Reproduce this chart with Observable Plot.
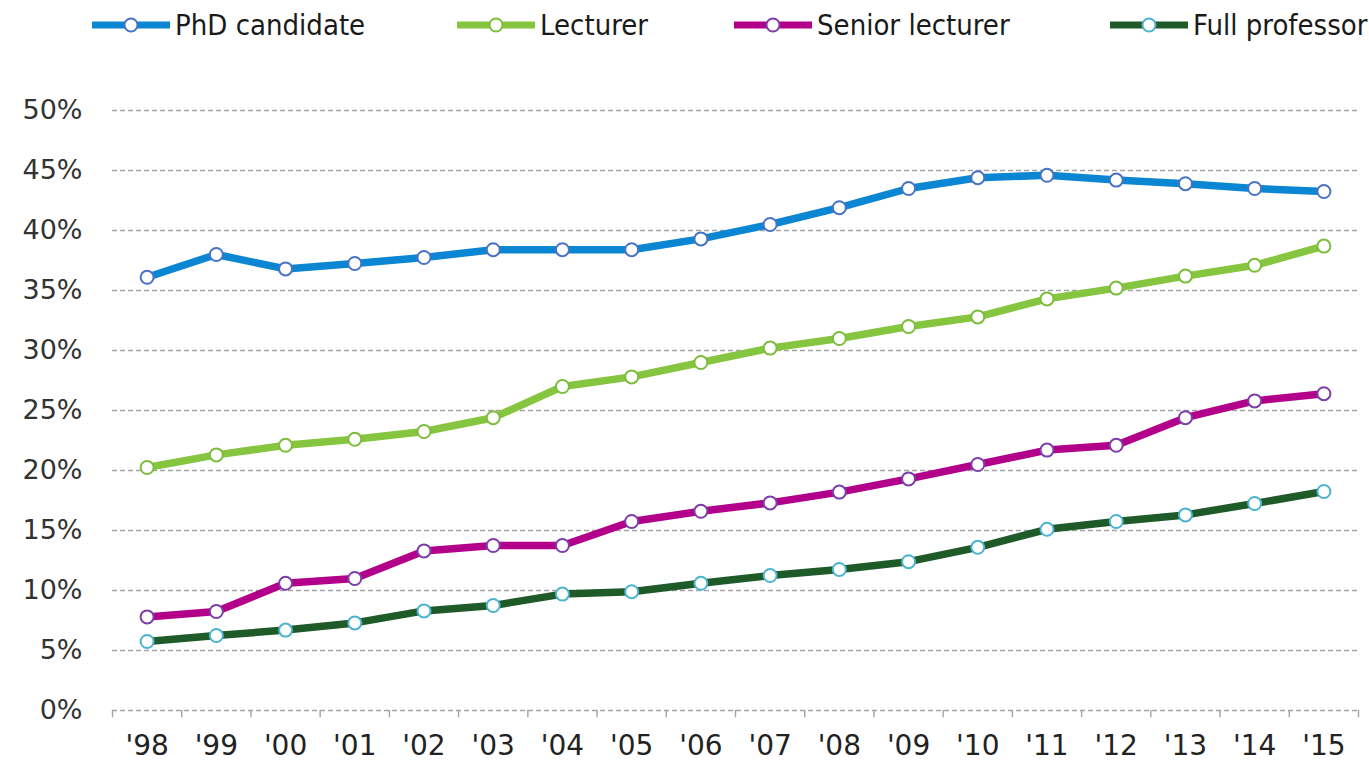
<!DOCTYPE html>
<html><head><meta charset="utf-8">
<script src="https://cdn.jsdelivr.net/npm/d3@7"></script>
<script src="https://cdn.jsdelivr.net/npm/@observablehq/plot@0.6"></script>
<style>
body{margin:0;background:#fff;}
#legend{position:relative;width:1369px;height:50px;overflow:hidden;}
.item{position:absolute;top:7px;height:36px;display:flex;align-items:center;font-family:"DejaVu Sans Condensed","DejaVu Sans",sans-serif;font-size:29px;color:#1a1a1a;white-space:nowrap;}
.item svg{margin-right:5px;}
</style></head><body>
<div id="legend"></div>
<div id="chart"></div>
<script>
const years = ["'98","'99","'00","'01","'02","'03","'04","'05","'06","'07","'08","'09","'10","'11","'12","'13","'14","'15"];
const seriesNames = ["PhD candidate","Lecturer","Senior lecturer","Full professor"];
const phdCandidate   = [36.1, 38.0, 36.8, 37.25, 37.75, 38.4, 38.4, 38.4, 39.3, 40.5, 41.9, 43.5, 44.4, 44.6, 44.2, 43.9, 43.5, 43.25];
const lecturer       = [20.25, 21.3, 22.1, 22.6, 23.25, 24.4, 27.0, 27.8, 29.0, 30.2, 31.0, 32.0, 32.8, 34.3, 35.2, 36.2, 37.1, 38.7];
const seniorLecturer = [7.8, 8.25, 10.6, 11.0, 13.3, 13.75, 13.75, 15.75, 16.6, 17.3, 18.2, 19.3, 20.5, 21.7, 22.1, 24.4, 25.8, 26.4];
const fullProfessor  = [5.75, 6.25, 6.7, 7.3, 8.3, 8.75, 9.7, 9.9, 10.6, 11.25, 11.75, 12.4, 13.6, 15.1, 15.75, 16.3, 17.25, 18.25];
const yTicks = [0, 5, 10, 15, 20, 25, 30, 35, 40, 45, 50];

const lineColors   = ["#0b86d3", "#86c540", "#b3008a", "#1f5a29"];
const markerColors = ["#4a72c4", "#7dbd3d", "#7a3fa8", "#4bb4d2"];
const seriesValues = [phdCandidate, lecturer, seniorLecturer, fullProfessor];

// legend
const legendLeft = [92, 457, 734, 1110];
const legend = document.getElementById("legend");
seriesNames.forEach((name, k) => {
  const div = document.createElement("div");
  div.className = "item";
  div.style.left = legendLeft[k] + "px";
  div.innerHTML = `<svg width="78" height="20"><line x1="0" x2="78" y1="10" y2="10" stroke="${lineColors[k]}" stroke-width="7" stroke-linecap="round"/><circle cx="39" cy="10" r="6.5" fill="white" stroke="${markerColors[k]}" stroke-width="2"/></svg><span>${name}</span>`;
  legend.appendChild(div);
});

const idx = d3.range(years.length);
const seriesMarks = seriesValues.flatMap((vals, k) => {
  const rows = vals.map((v, i) => ({i, v}));
  return [
    Plot.line(rows, {x: "i", y: "v", stroke: lineColors[k], strokeWidth: 7.5, curve: "linear", strokeLinejoin: "round", strokeLinecap: "round"}),
    Plot.dot(rows, {x: "i", y: "v", r: 6.5, fill: "white", stroke: markerColors[k], strokeWidth: 2})
  ];
});

const chart = Plot.plot({
  width: 1369,
  height: 712,
  marginLeft: 112,
  marginRight: 11,
  marginTop: 60,
  marginBottom: 52,
  x: {domain: [-0.5, years.length - 0.5], axis: null},
  y: {domain: [0, 50], axis: null},
  style: {fontFamily: "'DejaVu Sans', Verdana, sans-serif", fontSize: "27px", color: "#333", background: "white"},
  marks: [
    Plot.ruleY(yTicks, {stroke: "#a3a3a3", strokeWidth: 1.4, strokeDasharray: "5,3"}),
    Plot.ruleX(d3.range(years.length + 1).map(i => i - 0.5), {y1: 0, y2: -0.6, stroke: "#a3a3a3", strokeWidth: 1.4}),
    Plot.axisY(yTicks, {tickSize: 0, tickPadding: 30, tickFormat: d => d + "%", fontSize: 27, fill: "#333", label: null}),
    Plot.axisX(idx, {tickSize: 0, tickPadding: 25, tickFormat: i => years[i], fontSize: 28, fill: "#222", label: null}),
    ...seriesMarks
  ]
});
document.getElementById("chart").appendChild(chart);
</script>
</body></html>
